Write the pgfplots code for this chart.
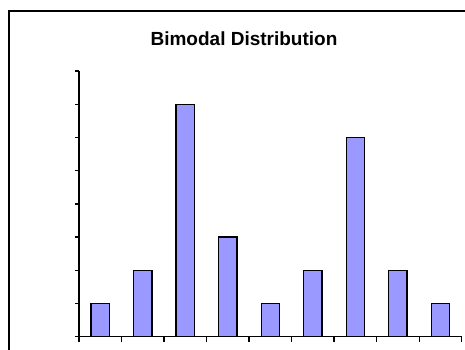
\documentclass[border=0pt]{standalone}
\usepackage{pgfplots}
\pgfplotsset{compat=1.18}
\usepackage{fontspec}
\setmainfont{Liberation Sans}
\definecolor{barfill}{HTML}{9999FF}
\begin{document}
\begin{tikzpicture}[x=1pt,y=1pt]
\useasboundingbox (0,0) rectangle (465,349);
\clip (0,0) rectangle (465,349);
\fill[white] (0,0) rectangle (465,349);
% chart area border (runs past the page on the right and bottom)
\draw[line width=1.5pt] (9,-20) -- (9,338) -- (490,338);
\node[font=\bfseries\fontsize{19}{21}\selectfont, anchor=base] at (244,304) {Bimodal Distribution};
\begin{axis}[
  at={(79pt,12.3pt)}, anchor=south west,
  scale only axis, width=382.7pt, height=265.7pt,
  xmin=0.5, xmax=9.5, ymin=0, ymax=8,
  axis lines=left,
  axis line style={-, line width=1.5pt},
  xtick={0.5,1.5,...,9.5}, ytick={0,1,...,8},
  xticklabels={}, yticklabels={},
  tick align=outside,
  x tick style={black, line width=1.3pt, /pgfplots/major tick length=5pt},
  y tick style={black, line width=1.3pt, /pgfplots/major tick length=4pt},
  clip=false,
]
\addplot[ybar, bar width=18.3pt, fill=barfill, draw=black, line width=1.4pt]
  coordinates {(1,1) (2,2) (3,7) (4,3) (5,1) (6,2) (7,6) (8,2) (9,1)};
\end{axis}
\end{tikzpicture}
\end{document}
